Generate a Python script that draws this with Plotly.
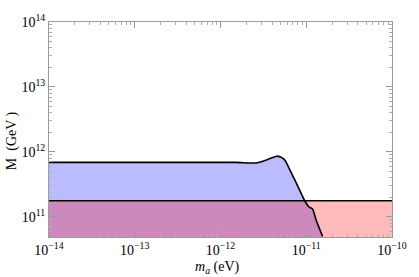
import plotly.graph_objects as go

# Blue region boundary (upper edge), m_a in eV, M in GeV
blue_x = [1e-14, 1.5e-12, 2.6e-12, 3.5e-12, 4.6e-12, 5.25e-12, 5.7e-12, 6.5e-12,
          7.4e-12, 8.4e-12, 9.6e-12, 1.07e-11, 1.19e-11, 1.30e-11, 1.55e-11]
blue_y = [6.9e11, 6.9e11, 6.75e11, 7.6e11, 8.6e11, 8.1e11, 7.3e11, 5.15e11,
          3.64e11, 2.56e11, 1.77e11, 1.43e11, 1.31e11, 9.0e10, 5.0e10]

# Red region: constant upper bound across the whole range
red_x = [1e-14, 1e-10]
red_y = [1.77e11, 1.77e11]

floor_y = 1e10

x_tickvals = [1e-14, 1e-13, 1e-12, 1e-11, 1e-10]
x_ticktext = ["10<sup>\u221214</sup>", "10<sup>\u221213</sup>", "10<sup>\u221212</sup>",
              "10<sup>\u221211</sup>", "10<sup>\u221210</sup>"]
y_tickvals = [1e11, 1e12, 1e13, 1e14]
y_ticktext = ["10<sup>11</sup>", "10<sup>12</sup>", "10<sup>13</sup>", "10<sup>14</sup>"]

SERIF = "Liberation Serif"

fig = go.Figure()

# blue filled polygon
fig.add_trace(go.Scatter(
    x=blue_x + [blue_x[-1], blue_x[0]],
    y=blue_y + [floor_y, floor_y],
    fill="toself", fillcolor="rgba(0,0,255,0.267)",
    mode="lines", line=dict(width=0, shape="spline", smoothing=0.5),
    hoverinfo="skip", showlegend=False))

# red filled polygon
fig.add_trace(go.Scatter(
    x=red_x + [red_x[-1], red_x[0]],
    y=red_y + [floor_y, floor_y],
    fill="toself", fillcolor="rgba(255,0,0,0.267)",
    mode="lines", line=dict(width=0),
    hoverinfo="skip", showlegend=False))

# boundary lines
fig.add_trace(go.Scatter(x=blue_x, y=blue_y, mode="lines",
                         line=dict(color="black", width=1.6, shape="spline", smoothing=0.5),
                         showlegend=False))
fig.add_trace(go.Scatter(x=red_x, y=red_y, mode="lines",
                         line=dict(color="black", width=1.6),
                         showlegend=False))

axis_common = dict(
    type="log", showgrid=False, zeroline=False,
    showline=True, linecolor="#9a9a9a", linewidth=1, mirror="ticks",
    ticks="inside", ticklen=6, tickcolor="#9a9a9a", tickwidth=1,
    tickfont=dict(family=SERIF, size=14, color="black"),
    minor=dict(ticks="inside", ticklen=3, tickcolor="#b0b0b0", dtick="D1", showgrid=False),
)

fig.update_xaxes(range=[-14, -10], tickvals=x_tickvals, ticktext=x_ticktext, **axis_common)
fig.update_yaxes(range=[10.69, 14.0], tickvals=y_tickvals, ticktext=y_ticktext, **axis_common)

fig.add_annotation(text="<i>m</i><sub><i>a</i></sub> (eV)", xref="paper", yref="paper",
                   x=0.49, y=-0.14, xanchor="center", yanchor="middle", showarrow=False,
                   font=dict(family=SERIF, size=14, color="black"))
fig.add_annotation(text="M  (GeV )", xref="paper", yref="paper",
                   x=-0.107, y=0.447, xanchor="center", yanchor="middle", textangle=-90,
                   showarrow=False,
                   font=dict(family=SERIF, size=14, color="black"))

fig.update_layout(
    width=419, height=277,
    margin=dict(l=49, r=15, t=18, b=40),
    paper_bgcolor="white", plot_bgcolor="white",
    font=dict(family=SERIF, size=14, color="black"),
)

fig.write_html("out.html", config={"displayModeBar": False},
               post_script="document.body.style.margin='0';document.body.style.overflow='hidden';")
